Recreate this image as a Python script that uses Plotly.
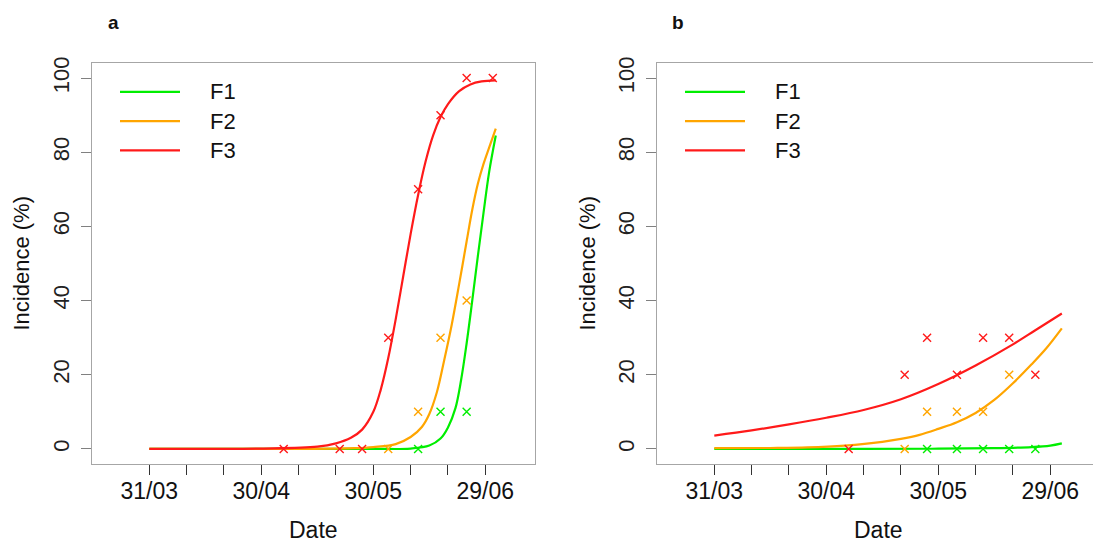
import plotly.graph_objects as go

# ---------------- data (x = days since 31/03) ----------------
tick_days = [0, 10, 20, 30, 40, 50, 60, 70, 80, 90]
tick_text = ["31/03", "", "", "30/04", "", "", "30/05", "", "", "29/06"]
y_ticks = [0, 20, 40, 60, 80, 100]
series_names = ["F1", "F2", "F3"]
series_colors = ["#00ee00", "#ffa500", "#ff1a1a"]

# Panel a: fitted curves
a_f1_curve_d = [0, 60, 70, 75, 78, 80, 82, 83.5, 85, 86.5, 88, 89.5, 91, 92.8]
a_f1_curve_v = [0, 0, 0.1, 0.9, 2.8, 5.8, 11, 18.5, 28.5, 40, 52, 63.5, 74.5, 84.5]
a_f2_curve_d = [0, 40, 55, 60, 66, 70, 73, 75, 77, 79, 81, 83, 85, 86.5, 88, 89.5, 91, 92.8]
a_f2_curve_v = [0, 0, 0.2, 0.5, 1.3, 3.2, 5.9, 9.4, 15.2, 24, 33.5, 44.5, 56, 64.5, 71.5, 76.8, 81.2, 86.4]
a_f3_curve_d = [0, 30, 45, 50, 54, 57, 60, 62, 64, 66, 68, 70, 72, 74, 76, 78, 80, 83, 86, 89, 92.8]
a_f3_curve_v = [0, 0.1, 0.6, 1.5, 3, 5.2, 10, 16, 24.5, 35, 46.5, 58, 68.5, 77.5, 84.5, 89.5, 93, 96.5, 98.3, 99.1, 99.4]

# Panel a: observations
a_f1_obs_d = [72, 78, 85]
a_f1_obs_v = [0, 10, 10]
a_f2_obs_d = [64, 72, 78, 85]
a_f2_obs_v = [0, 10, 30, 40]
a_f3_obs_d = [36, 51, 57, 64, 72, 78, 85, 92]
a_f3_obs_v = [0, 0, 0, 30, 70, 90, 100, 100]

# Panel b: fitted curves
b_f1_curve_d = [0, 40, 60, 75, 85, 90, 93.1]
b_f1_curve_v = [0, 0, 0.05, 0.2, 0.5, 0.9, 1.5]
b_f2_curve_d = [0, 15, 25, 35, 45, 50, 55, 60, 65, 70, 75, 80, 85, 89, 93.1]
b_f2_curve_v = [0.2, 0.25, 0.4, 0.9, 1.9, 2.7, 3.8, 5.4, 7.2, 9.7, 13.2, 17.7, 22.8, 27.2, 32.5]
b_f3_curve_d = [0, 10, 20, 30, 40, 50, 60, 70, 80, 86, 93.1]
b_f3_curve_v = [3.6, 5.0, 6.6, 8.4, 10.5, 13.4, 17.5, 22.5, 28.2, 32.0, 36.5]

# Panel b: observations
b_f1_obs_d = [57, 65, 72, 79, 86]
b_f1_obs_v = [0, 0, 0, 0, 0]
b_f2_obs_d = [51, 57, 65, 72, 79]
b_f2_obs_v = [0, 10, 10, 10, 20]
b_f3_obs_d = [36, 51, 57, 65, 72, 79, 86]
b_f3_obs_v = [0, 20, 30, 20, 30, 30, 20]

# ---------------- figure ----------------
W, H = 1093, 543
FONT = "Liberation Sans, Arial, Helvetica, sans-serif"
fig = go.Figure()

panels = [
    ("x", "y",
     [(a_f1_curve_d, a_f1_curve_v), (a_f2_curve_d, a_f2_curve_v), (a_f3_curve_d, a_f3_curve_v)],
     [(a_f1_obs_d, a_f1_obs_v), (a_f2_obs_d, a_f2_obs_v), (a_f3_obs_d, a_f3_obs_v)]),
    ("x2", "y2",
     [(b_f1_curve_d, b_f1_curve_v), (b_f2_curve_d, b_f2_curve_v), (b_f3_curve_d, b_f3_curve_v)],
     [(b_f1_obs_d, b_f1_obs_v), (b_f2_obs_d, b_f2_obs_v), (b_f3_obs_d, b_f3_obs_v)]),
]

for xa, ya, curves, obs in panels:
    for (d, v), col, nm in zip(curves, series_colors, series_names):
        fig.add_trace(go.Scatter(x=d, y=v, mode="lines", xaxis=xa, yaxis=ya,
                                 line=dict(color=col, width=2.2, shape="spline", smoothing=1.0),
                                 name=nm, showlegend=False, hoverinfo="skip"))
    for (d, v), col, nm in zip(obs, series_colors, series_names):
        fig.add_trace(go.Scatter(x=d, y=v, mode="markers", xaxis=xa, yaxis=ya,
                                 marker=dict(symbol="x-thin-open", size=8, color=col,
                                             line=dict(color=col, width=1.4)),
                                 name=nm, showlegend=False))

box_gray = "#a6a6a6"
y_dom = [(H - 462.7) / H, (H - 57) / H]

def xaxis_cfg(dom, rng):
    return dict(domain=dom, range=rng, tickmode="array", tickvals=tick_days, ticktext=tick_text,
                ticks="outside", ticklen=10, tickwidth=1.3, tickcolor="#333333",
                showline=True, linecolor=box_gray, linewidth=1.3, mirror=True,
                showgrid=False, zeroline=False, ticklabelstandoff=-3,
                tickfont=dict(family=FONT, size=23, color="#111111"))

def yaxis_cfg(anchor, mirror):
    return dict(domain=y_dom, range=[-4, 104], anchor=anchor, tickmode="array", tickvals=y_ticks,
                ticks="outside", ticklen=10, tickwidth=1.3, tickcolor="#808080",
                showline=True, linecolor=box_gray, linewidth=1.3, mirror=mirror,
                showgrid=False, zeroline=False, tickangle=-90, ticklabelstandoff=3,
                tickfont=dict(family=FONT, size=22, color="#222222"))

fig.update_layout(
    width=W, height=H, autosize=False,
    margin=dict(l=0, r=0, t=0, b=0),
    paper_bgcolor="white", plot_bgcolor="white",
    showlegend=False,
    xaxis=xaxis_cfg([92 / W, 534.6 / W], [-15.35, 103.2]) | dict(anchor="y"),
    yaxis=yaxis_cfg("x", True),
    xaxis2=xaxis_cfg([656.7 / W, 1.0], [-15.43, 101.45]) | dict(anchor="y2"),
    yaxis2=yaxis_cfg("x2", False),
)

annotations = []
shapes = []
# panel titles
for txt, xc in [("a", 113), ("b", 678.3)]:
    annotations.append(dict(text="<b>%s</b>" % txt, x=xc / W, y=(H - 16) / H, xref="paper", yref="paper",
                            showarrow=False, xanchor="center", yanchor="middle",
                            font=dict(family=FONT, size=19, color="#111111")))
# axis titles
for xc in [313.3, 878.3]:
    annotations.append(dict(text="Date", x=xc / W, y=(H - 530) / H, xref="paper", yref="paper",
                            showarrow=False, xanchor="center", yanchor="middle",
                            font=dict(family=FONT, size=23, color="#111111")))
for xc in [22, 588]:
    annotations.append(dict(text="Incidence (%)", x=xc / W, y=(H - 259.9) / H, xref="paper", yref="paper",
                            showarrow=False, xanchor="center", yanchor="middle", textangle=-90,
                            font=dict(family=FONT, size=22, color="#111111")))
# legends
for (lx0, lx1, tx) in [(120, 180, 208.3), (685, 745, 773)]:
    for nm, col, ly in zip(series_names, series_colors, [86, 115.7, 145.3]):
        shapes.append(dict(type="line", xref="paper", yref="paper",
                           x0=lx0 / W, x1=lx1 / W, y0=(H - ly) / H, y1=(H - ly) / H,
                           line=dict(color=col, width=2.2)))
        annotations.append(dict(text=nm, x=tx / W, y=(H - ly) / H, xref="paper", yref="paper",
                                showarrow=False, xanchor="left", yanchor="middle",
                                font=dict(family=FONT, size=22, color="#111111")))

fig.update_layout(annotations=annotations, shapes=shapes)
fig.write_html("out.html", config={"displayModeBar": False},
               post_script="document.body.style.margin='0';document.body.style.overflow='hidden';")
